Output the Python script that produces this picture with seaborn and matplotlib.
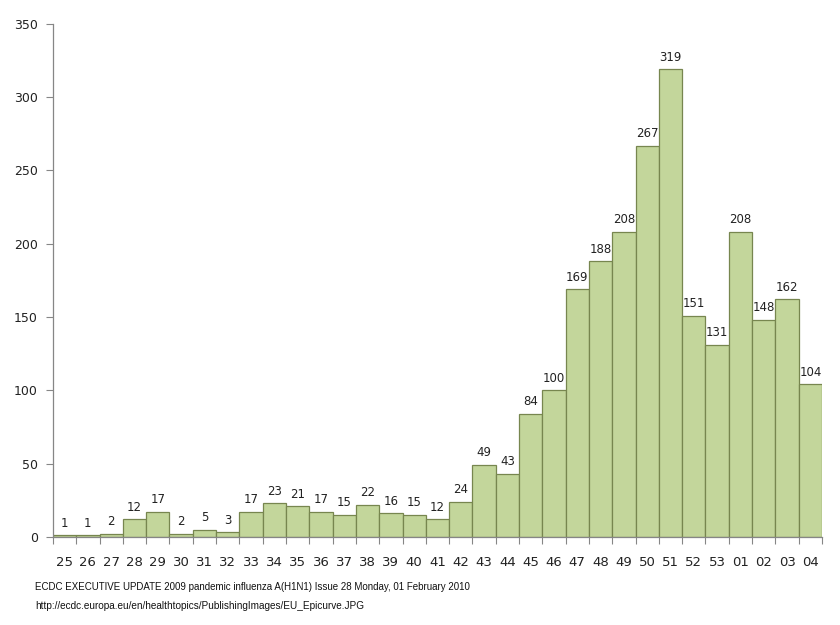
import matplotlib
matplotlib.use("Agg")
import matplotlib.pyplot as plt
import seaborn as sns
import pandas as pd
import numpy as np

# --- datos: casos por semana ---
weeks = ["25", "26", "27", "28", "29", "30", "31", "32", "33", "34", "35",
         "36", "37", "38", "39", "40", "41", "42", "43", "44", "45", "46",
         "47", "48", "49", "50", "51", "52", "53", "01", "02", "03", "04"]
cases = [1, 1, 2, 12, 17, 2, 5, 3, 17, 23, 21, 17, 15, 22, 16, 15, 12, 24,
         49, 43, 84, 100, 169, 188, 208, 267, 319, 151, 131, 208, 148, 162, 104]

footer_1 = "ECDC EXECUTIVE UPDATE 2009 pandemic influenza A(H1N1) Issue 28 Monday, 01 February 2010"
footer_2 = "http://ecdc.europa.eu/en/healthtopics/PublishingImages/EU_Epicurve.JPG"

df = pd.DataFrame({"week": weeks, "cases": cases})

sns.set_style("white")
plt.rcParams['font.family'] = ['DejaVu Sans']

fig = plt.figure(figsize=(8.4, 6.25), dpi=100)
ax = fig.add_axes([0.063, 0.141, 0.9156, 0.8208])

sns.barplot(data=df, x="week", y="cases", order=weeks, color="#c3d69b",
            saturation=1, width=1.0, edgecolor="#77864f", linewidth=0.9, ax=ax)

ax.bar_label(ax.containers[0], labels=[str(v) for v in cases], padding=4,
             fontsize=8.5, color="#222222")

ax.set_ylim(0, 350)
ax.set_xlim(-0.5, len(weeks) - 0.5)
ax.set_yticks(np.arange(0, 351, 50))
ax.set_xlabel("")
ax.set_ylabel("")

# ticks between bars
ax.set_xticks(np.arange(-0.5, len(weeks), 1), minor=True)
ax.tick_params(axis="x", which="major", bottom=False, pad=10, labelsize=9.5, colors="#222222")
ax.tick_params(axis="x", which="minor", bottom=True, length=5, width=0.8,
               color="#868686", direction="out")
ax.tick_params(axis="y", left=True, length=5, width=0.8, color="#868686", direction="out",
               labelsize=9, labelcolor="#222222", pad=6)

sns.despine(ax=ax)
for side in ["left", "bottom"]:
    ax.spines[side].set_color("#868686")
    ax.spines[side].set_linewidth(0.9)

# pie de página (fuente estrecha no disponible -> Liberation Sans más pequeña)
foot_font = ['Liberation Sans', 'DejaVu Sans']
fig.text(0.042, 0.056, footer_1, fontsize=7, family=foot_font, color="#111111")
fig.text(0.042, 0.026, footer_2, fontsize=7.2, family=foot_font, color="#111111")

fig.savefig("out.png", dpi=100)
